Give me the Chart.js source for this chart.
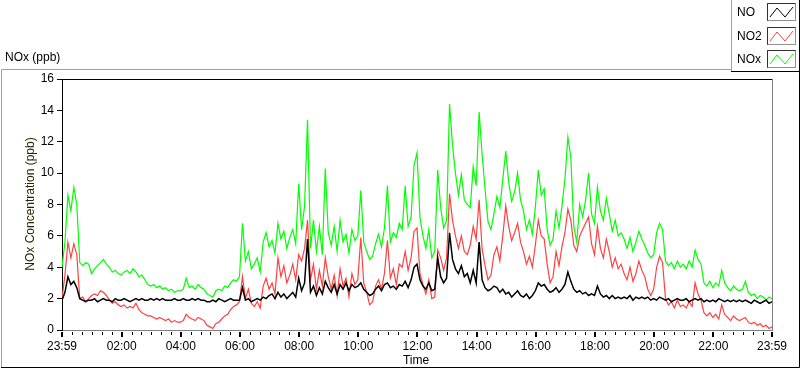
<!DOCTYPE html>
<html>
<head>
<meta charset="utf-8">
<script src="https://cdn.jsdelivr.net/npm/chart.js@4.4.1/dist/chart.umd.min.js"></script>
<style>
  html, body { margin: 0; padding: 0; background: #fff; }
  canvas { display: block; }
</style>
</head>
<body>
<canvas id="nox_chart" width="800" height="369"></canvas>
<script>
// one sample every 6 minutes, starting 23:59 the day before
const STEP = 6

const noValues = [
    1.9, 2.4, 3.4, 2.9, 3.1, 2.7, 2.0, 1.9, 1.8, 1.9,
    1.9, 2.0, 1.8, 1.9, 2.0, 1.9, 1.9, 1.8, 2.0, 1.9,
    1.9, 2.0, 1.9, 1.8, 1.9, 2.0, 1.9, 2.0, 1.9, 1.9,
    2.0, 1.9, 2.0, 1.9, 2.0, 1.9, 1.9, 1.9, 2.0, 1.9,
    1.9, 2.0, 1.9, 1.9, 2.0, 1.9, 2.0, 1.9, 1.9, 1.8,
    1.8, 1.9, 1.8, 2.0, 1.9, 1.8, 1.9, 2.0, 1.9, 1.9,
    1.9, 2.7, 1.9, 2.0, 1.8, 1.9, 2.0, 1.9, 2.1, 2.0,
    2.2, 2.3, 2.0, 2.4, 2.1, 2.3, 2.0, 2.2, 2.4, 2.1,
    3.3, 2.5, 3.0, 5.8, 2.4, 2.8, 2.2, 2.7, 2.3, 3.1,
    2.7, 2.4, 2.9, 2.3, 2.9, 2.6, 3.0, 2.5, 2.9, 2.7,
    2.8, 3.0, 2.6, 2.4, 2.2, 2.3, 2.6, 2.8, 2.5, 2.9,
    3.0, 2.7, 2.8, 2.6, 2.9, 2.8, 3.1, 2.7, 3.2, 4.0,
    4.2, 3.2, 2.8, 2.6, 3.0, 2.5, 2.6, 4.6, 3.4, 3.0,
    3.3, 6.2, 4.5, 3.9, 3.6, 4.1, 3.4, 3.6, 3.0, 3.8,
    3.0, 5.6, 3.2, 2.7, 2.5, 2.6, 2.8, 2.7, 2.4, 2.6,
    2.3, 2.4, 2.1, 2.3, 2.5, 2.2, 2.1, 2.3, 2.0, 2.2,
    2.5, 3.0, 2.8, 2.9, 2.6, 2.4, 2.5, 2.7, 2.4, 2.6,
    2.9, 3.7, 3.1, 2.6, 2.4, 2.5, 2.3, 2.4, 2.2, 2.3,
    2.2, 2.8, 2.3, 2.1, 2.2, 2.0, 2.2, 2.0, 2.1, 2.0,
    2.1, 2.0, 2.2, 1.9, 2.1, 2.0, 2.1, 2.0, 2.1, 1.9,
    2.0, 1.9, 2.1, 2.0, 1.9, 2.0, 1.8, 1.9, 2.0, 1.9,
    1.9, 2.0, 1.8, 1.9, 2.0, 1.9, 2.0, 1.8, 1.9, 1.8,
    1.9, 1.8, 2.0, 1.9, 1.8, 1.9, 1.8, 1.9, 1.8, 1.9,
    1.8, 1.9, 1.8, 1.7, 1.9, 1.8, 1.7, 1.8, 1.9, 1.7,
    1.8
]

const no2Values = [
    2.0, 3.5, 5.6, 4.6, 5.5, 4.8, 2.0, 2.1, 1.8, 2.0,
    2.2, 2.3, 2.2, 2.5, 2.4, 2.2, 1.9, 1.7, 1.8, 1.6,
    1.5, 1.6, 1.4, 1.5, 1.4, 1.7, 1.3, 1.1, 1.0, 0.9,
    0.9, 0.8, 0.7, 0.8, 0.7, 0.6, 0.7, 0.5, 0.6, 0.5,
    0.5, 0.6, 1.0, 0.8, 0.7, 0.6, 0.8, 0.7, 0.6, 0.3,
    0.2, 0.1, 0.4, 0.5, 0.7, 0.9, 1.0, 1.3, 1.5, 1.6,
    1.8, 3.4, 2.0, 2.6, 1.7, 1.5, 1.8, 1.4, 2.8, 3.3,
    2.6, 3.0, 2.3, 4.6, 3.4, 4.1, 3.0, 3.5, 4.2, 3.2,
    4.8, 4.4, 5.2, 7.0, 3.2, 4.2, 2.6, 3.8, 2.8, 4.6,
    3.4, 2.6, 3.5, 2.2, 3.9, 2.8, 3.3, 2.1, 3.6, 2.9,
    3.2, 5.9, 3.0, 2.4, 1.6, 1.8, 2.8, 3.2, 2.6, 3.6,
    5.7, 3.3, 3.9, 2.9, 4.2, 4.0, 5.0, 3.8, 4.6, 6.3,
    6.5, 3.6, 2.9, 2.3, 3.2, 2.0, 2.1, 5.1, 4.6, 3.8,
    4.6, 8.7, 7.0, 6.0, 5.2, 6.0, 5.0, 4.8, 5.4, 6.6,
    5.8, 8.3, 5.2, 4.1, 3.2, 3.5, 4.8, 5.3, 4.4, 6.0,
    7.9, 6.6, 5.7, 6.2, 6.8, 5.6, 5.0, 4.2, 4.7, 4.0,
    5.4, 7.0, 6.0, 5.8, 4.2, 3.0, 3.4, 5.0, 4.1, 5.3,
    6.2, 7.7, 7.0, 5.4, 5.0, 6.0, 6.4, 6.8, 7.2, 5.5,
    4.8, 6.6, 5.2, 4.6, 5.8, 5.0, 4.0, 4.6, 3.9, 4.2,
    3.6, 3.2, 4.0, 3.1, 3.6, 4.4, 3.8, 3.4, 2.6, 2.2,
    2.6, 4.0, 4.7, 4.3, 2.0, 1.6, 1.8, 1.4, 1.9, 1.5,
    1.6, 1.4, 1.8, 1.5, 3.0, 2.3, 1.9, 1.1, 0.9, 1.1,
    0.8, 1.0, 0.7, 1.6, 1.0, 0.8, 0.6, 0.9, 0.7, 0.6,
    0.7, 0.8, 0.5, 0.4, 0.5, 0.3, 0.4, 0.2, 0.3, 0.1,
    0.2
]

const noxValues = [
    4.0, 5.6, 8.6, 7.6, 9.1, 8.0, 4.3, 4.1, 4.3, 4.2,
    3.6, 3.9, 4.1, 4.3, 4.5, 4.2, 4.0, 3.7, 3.8, 3.6,
    3.5, 3.7, 3.8, 3.6, 3.9, 3.7, 3.4, 3.5, 3.2, 2.9,
    2.8, 2.9, 2.7, 2.8, 2.6, 2.7, 2.5, 2.6, 2.4, 2.5,
    2.5, 2.6, 3.3, 2.7, 2.8, 2.6, 2.9, 2.7, 2.6, 2.3,
    2.2, 2.1, 2.5, 2.6, 2.5, 2.8, 2.7, 3.0, 3.2, 3.1,
    3.4, 6.8, 4.4, 5.0, 3.9, 4.2, 4.6, 3.7, 5.6, 6.2,
    5.3, 5.7, 4.9, 6.8, 5.8, 6.3, 5.2, 5.9, 6.4, 5.5,
    9.3, 6.4, 7.9, 13.4, 5.2, 7.0, 5.0, 6.6, 4.8, 10.3,
    6.2, 5.4, 6.6, 5.0, 7.0, 5.6, 6.1, 4.9, 6.4, 5.7,
    6.0, 8.9, 5.6, 5.0, 4.5, 4.7, 5.5, 6.1, 5.3, 6.5,
    9.2, 5.6, 6.2, 5.9, 6.8, 6.4, 9.2, 6.6, 7.2, 10.5,
    11.3, 7.2, 6.0, 5.2, 6.4, 4.6, 5.0, 10.2, 7.8, 6.5,
    7.0, 14.4, 11.8, 10.0, 8.6, 9.9, 8.3, 8.0, 7.8, 10.4,
    9.2, 13.9, 11.2, 9.0, 6.9, 6.4, 7.4, 8.5, 7.8, 9.6,
    11.4, 9.4, 8.2, 8.8, 10.0, 8.3, 7.6, 6.4, 7.0, 6.1,
    7.8, 10.2, 8.6, 9.0, 6.4, 5.4, 5.8, 7.6, 6.5, 7.9,
    9.6, 12.3, 11.0, 6.6, 5.6, 8.0, 7.2, 8.3, 10.0, 7.4,
    6.8, 9.1, 7.6, 7.0, 8.4, 7.4, 6.3, 7.0, 6.0, 6.2,
    5.8, 5.2, 5.9, 5.0, 5.6, 6.3, 5.8, 5.4, 4.9, 4.6,
    4.8, 6.2, 6.8, 6.4, 4.4, 4.1, 4.3, 3.9, 4.4, 4.0,
    4.2, 3.9, 4.4, 4.0, 5.1, 4.5, 4.2, 3.0, 2.8, 3.1,
    2.7, 3.0, 2.8, 3.8, 3.0, 2.7, 2.5, 2.8, 2.6, 2.5,
    2.6, 3.1, 2.4, 2.2, 2.3, 2.0, 2.2, 2.1, 1.9, 2.1,
    2.0
]

// x axis labels (minutes after the 23:59 start)
const timeTicks = [0, 121, 241, 361, 481, 601, 721, 841, 961, 1081, 1201, 1321, 1440]
const timeLabels = ['23:59', '02:00', '04:00', '06:00', '08:00', '10:00', '12:00',
    '14:00', '16:00', '18:00', '20:00', '22:00', '23:59']

const seriesNames = ['NO', 'NO2', 'NOx']
const seriesColors = ['#000000', '#ff4040', '#00ff00']

const FONT = '"Liberation Sans", Arial, sans-serif'

function toPoints(values) {
    return values.map((v, i) => ({ x: i * STEP, y: v }))
}

// frame, titles, legend and x tick marks drawn around the plot
const labviewFrame = {
    id: 'labviewFrame',
    beforeDraw(chart) {
        const ctx = chart.ctx
        ctx.save()
        ctx.fillStyle = '#fff'
        ctx.fillRect(0, 0, chart.width, chart.height)

        // outer sunken frame
        ctx.lineWidth = 1
        ctx.strokeStyle = '#a0a0a0'
        ctx.beginPath()
        ctx.moveTo(1.5, 367)
        ctx.lineTo(1.5, 69.5)
        ctx.lineTo(731, 69.5)
        ctx.stroke()
        ctx.strokeStyle = '#000'
        ctx.beginPath()
        ctx.moveTo(1, 367.5)
        ctx.lineTo(799.5, 367.5)
        ctx.lineTo(799.5, 0)
        ctx.stroke()

        ctx.fillStyle = '#000'
        ctx.font = '12px ' + FONT
        ctx.textBaseline = 'middle'
        ctx.textAlign = 'left'
        ctx.fillText('NOx (ppb)', 5, 58)

        ctx.textAlign = 'center'
        ctx.fillText('Time', 416, 361)

        ctx.save()
        ctx.translate(31, 204)
        ctx.rotate(-Math.PI / 2)
        ctx.fillStyle = '#2a2200'
        ctx.fillText('NOx Concentration (ppb)', 0, 0)
        ctx.restore()
        ctx.restore()
    },
    afterDraw(chart) {
        const ctx = chart.ctx
        const area = chart.chartArea
        const xs = chart.scales.x
        ctx.save()

        // plot box: black top, grey right
        ctx.lineWidth = 1
        ctx.strokeStyle = '#000'
        ctx.beginPath()
        ctx.moveTo(area.left, area.top + 0.5)
        ctx.lineTo(area.right, area.top + 0.5)
        ctx.stroke()
        ctx.strokeStyle = '#808080'
        ctx.beginPath()
        ctx.moveTo(area.right + 0.5, area.top)
        ctx.lineTo(area.right + 0.5, area.bottom)
        ctx.stroke()

        // x tick marks: minor every 20 min, major at labels
        ctx.fillStyle = '#000'
        for (let t = 21; t < 1440; t += 20) {
            if (timeTicks.includes(t)) continue
            const px = Math.round(xs.getPixelForValue(t))
            ctx.fillRect(px, area.bottom + 2, 1, 3)
        }
        timeTicks.forEach(t => {
            const px = Math.round(xs.getPixelForValue(t))
            ctx.fillRect(px - 1, area.bottom + 2, 2, 5)
        })

        // legend box
        ctx.fillStyle = '#fff'
        ctx.fillRect(731, 0, 68, 71)
        ctx.strokeStyle = '#a0a0a0'
        ctx.beginPath()
        ctx.moveTo(731.5, 0)
        ctx.lineTo(731.5, 71)
        ctx.stroke()
        ctx.strokeStyle = '#000'
        ctx.beginPath()
        ctx.moveTo(731, 71.5)
        ctx.lineTo(800, 71.5)
        ctx.stroke()

        const rowY = [3, 27, 50]
        ctx.font = '12px ' + FONT
        ctx.textBaseline = 'middle'
        ctx.textAlign = 'left'
        seriesNames.forEach((name, i) => {
            const y = rowY[i]
            ctx.fillStyle = '#000'
            ctx.fillText(name, 737, y + 10)
            // icon box
            ctx.strokeStyle = '#909090'
            ctx.strokeRect(767.5, y + 0.5, 28, 17)
            ctx.strokeStyle = '#303030'
            ctx.beginPath()
            ctx.moveTo(767.5, y + 17.5)
            ctx.lineTo(767.5, y + 0.5)
            ctx.lineTo(795.5, y + 0.5)
            ctx.stroke()
            // zigzag sample
            ctx.strokeStyle = seriesColors[i]
            ctx.beginPath()
            ctx.moveTo(770, y + 14)
            ctx.lineTo(777, y + 5)
            ctx.lineTo(785, y + 14)
            ctx.lineTo(793, y + 4)
            ctx.stroke()
        })
        ctx.restore()
    }
}

new Chart(document.getElementById('nox_chart'), {
    type: 'line',
    data: {
        datasets: [
            { label: seriesNames[0], data: toPoints(noValues), borderColor: seriesColors[0], borderWidth: 1.5 },
            { label: seriesNames[1], data: toPoints(no2Values), borderColor: seriesColors[1], borderWidth: 1.2 },
            { label: seriesNames[2], data: toPoints(noxValues), borderColor: seriesColors[2], borderWidth: 1.2 }
        ]
    },
    options: {
        responsive: false,
        animation: false,
        devicePixelRatio: 1,
        layout: { padding: { left: 0, right: 28, top: 79, bottom: 0 } },
        elements: {
            point: { radius: 0 },
            line: { tension: 0 }
        },
        plugins: {
            legend: { display: false },
            tooltip: { enabled: false }
        },
        scales: {
            x: {
                type: 'linear',
                min: 0,
                max: 1440,
                afterBuildTicks: scale => {
                    scale.ticks = timeTicks.map(v => ({ value: v }))
                },
                afterFit: scale => { scale.height = 39 },
                grid: { drawOnChartArea: false, tickLength: 7, tickColor: 'rgba(0,0,0,0)' },
                border: { color: '#808080' },
                ticks: {
                    autoSkip: false,
                    maxRotation: 0,
                    padding: 2,
                    color: '#000',
                    font: { family: FONT, size: 12 },
                    callback: (v, i) => timeLabels[i]
                }
            },
            y: {
                min: 0,
                max: 16,
                afterFit: scale => { scale.width = 62 },
                grid: { drawOnChartArea: false, tickLength: 5, tickColor: '#000' },
                border: { color: '#000' },
                ticks: {
                    stepSize: 2,
                    padding: 3,
                    color: '#000',
                    font: { family: FONT, size: 12 }
                }
            }
        }
    },
    plugins: [labviewFrame]
})
</script>
</body>
</html>
